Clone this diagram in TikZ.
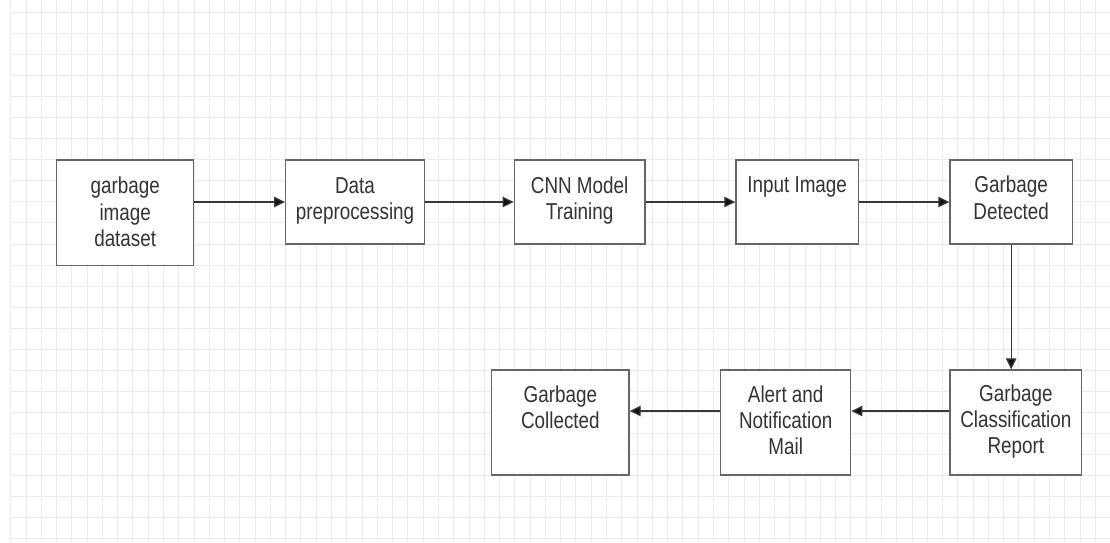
\documentclass[tikz,border=0pt]{standalone}
\usepackage{fontspec}
\setmainfont{Liberation Sans}
\usepackage{graphicx}
\usetikzlibrary{arrows.meta,calc}
\definecolor{gridc}{HTML}{EBEBEB}
\definecolor{boxc}{HTML}{666666}
\definecolor{linec}{HTML}{383838}
\definecolor{tipc}{HTML}{111111}
\definecolor{textc}{HTML}{333333}
\newcommand\boxtext[1]{\scalebox{0.82}[1]{\fontsize{23}{26.3}\selectfont\begin{tabular}[t]{@{}c@{}}#1\end{tabular}}}
\begin{document}
\begin{tikzpicture}[x=1pt,y=-1pt,
  box/.style={draw=boxc, line width=1.4pt, fill=white, rectangle, inner sep=0pt},
  txt/.style={anchor=base, text=textc, inner sep=0pt},
  arr/.style={draw=linec, line width=1.3pt, -{Triangle[length=11pt,width=10.5pt,fill=tipc]}},
  gridline/.style={draw=gridc, line width=0.9pt}]
\useasboundingbox (0,0) rectangle (1110,542);
\fill[white] (0,0) rectangle (1110,542);
\foreach \i in {0,...,71} \draw[gridline] ({10.7+15.276*\i},0) -- ({10.7+15.276*\i},542);
\foreach \k in {0,...,25} \draw[gridline] (10.7,{12.3+21.06*\k}) -- (1110,{12.3+21.06*\k});

\node[box, minimum width=137pt, minimum height=105.3pt] (b1) at (125.2,212.65) {};
\node[box, minimum width=138.6pt, minimum height=84pt] (b2) at (355,202) {};
\node[box, minimum width=130.7pt, minimum height=84pt] (b3) at (579.65,202) {};
\node[box, minimum width=122.3pt, minimum height=84pt] (b4) at (797.15,202) {};
\node[box, minimum width=122.3pt, minimum height=84pt] (b5) at (1011.15,202) {};
\node[box, minimum width=131.7pt, minimum height=105pt] (b6) at (1015.85,422.5) {};
\node[box, minimum width=130pt, minimum height=105pt] (b7) at (785.7,422.5) {};
\node[box, minimum width=137.3pt, minimum height=105pt] (b8) at (560.35,422.5) {};

\node[txt] (t1) at ($(b1.north)+(0,34.5)$) {\boxtext{garbage\\image\\dataset}};
\node[txt] (t2) at ($(b2.north)+(0,34)$) {\boxtext{Data\\preprocessing}};
\node[txt] (t3) at ($(b3.north)+(0,34)$) {\boxtext{CNN Model\\Training}};
\node[txt] (t4) at ($(b4.north)+(0,33.5)$) {\boxtext{Input Image}};
\node[txt] (t5) at ($(b5.north)+(0,33.5)$) {\boxtext{Garbage\\Detected}};
\node[txt] (t6) at ($(b6.north)+(0,32)$) {\boxtext{Garbage\\Classification\\Report}};
\node[txt] (t7) at ($(b7.north)+(0,33)$) {\boxtext{Alert and\\Notification\\Mail}};
\node[txt] (t8) at ($(b8.north)+(0,33)$) {\boxtext{Garbage\\Collected}};

\draw[arr] (b1.east |- b2.west) -- (b2.west);
\draw[arr] (b2.east) -- (b3.west);
\draw[arr] (b3.east) -- (b4.west);
\draw[arr] (b4.east) -- (b5.west);
\draw[arr] (b5.south) -- (b5.south |- b6.north);
\draw[arr] ($(b6.north west)+(0,41.7)$) -- ($(b7.north east)+(0,41.7)$);
\draw[arr] ($(b7.north west)+(0,41.7)$) -- ($(b8.north east)+(0,41.7)$);
\end{tikzpicture}
\end{document}
